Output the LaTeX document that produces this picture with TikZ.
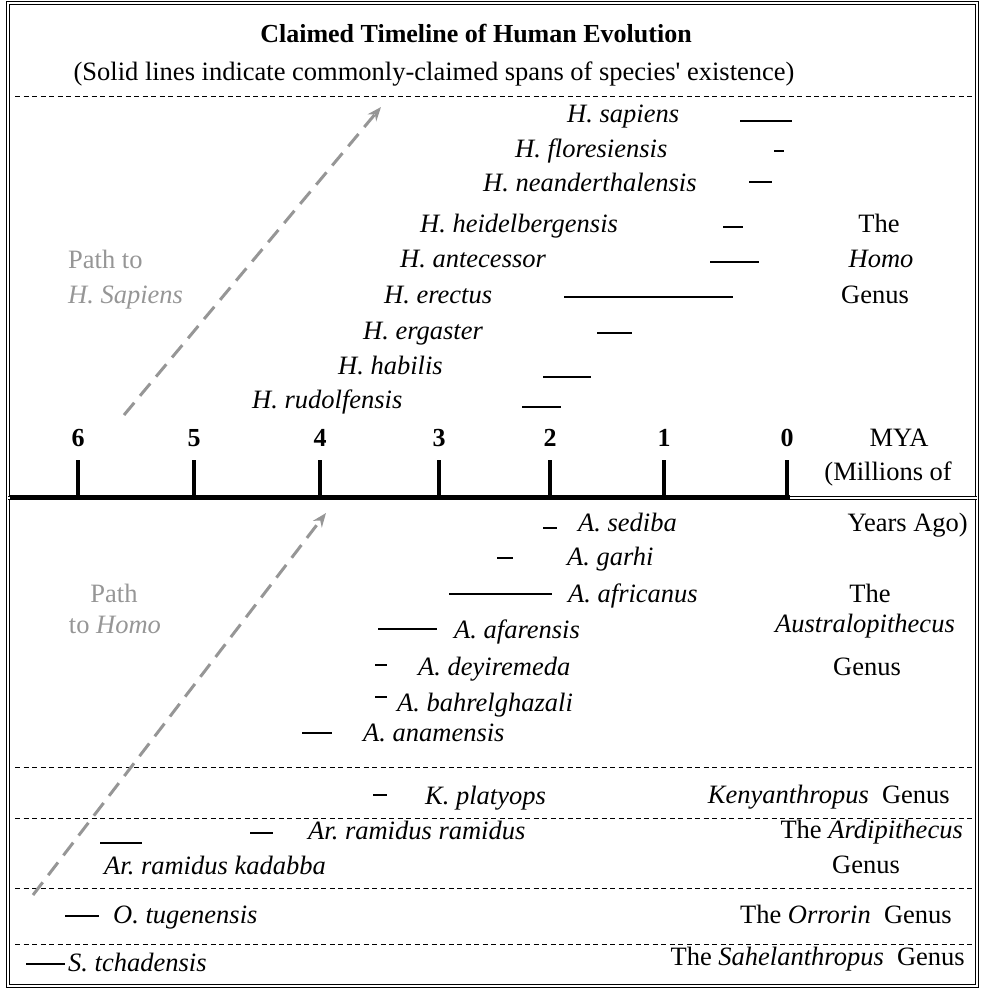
\documentclass[tikz,border=0pt]{standalone}
\usepackage{fontspec}
\setmainfont{Liberation Serif}
\usepackage{xcolor}
\usetikzlibrary{arrows.meta}

\definecolor{pathgray}{RGB}{150,150,150}

\begin{document}
\begin{tikzpicture}[x=1pt, y=-1pt,
    txt/.style={font=\fontsize{26.5}{32}\selectfont\frenchspacing, inner sep=0pt},
    boldtxt/.style={txt, font=\fontsize{26}{32}\selectfont\bfseries},
    species/.style={txt, font=\fontsize{26.5}{32}\selectfont\frenchspacing\itshape, anchor=base west},
    span/.style={line width=2pt},
    sep/.style={line width=1pt, dash pattern=on 5pt off 3.5pt},
    patharrow/.style={pathgray, line width=3pt, dash pattern=on 16pt off 9pt,
      -{Stealth[length=14pt, width=11pt]}},
    pathtext/.style={txt, text=pathgray}]
    \def\axisy{497}

    \useasboundingbox (0,0) rectangle (981,989);

    % Frame
    \draw[double, double distance=2pt, line width=0.8pt] (8,3) rectangle (977,986);
    \draw[double, double distance=2pt, line width=0.8pt] (8,498) -- (977,498);

    % Separators
    \foreach \y in {96, 767, 818, 888, 944}
      \draw[sep] (15,\y) -- (975,\y);

    % Title
    \node[boldtxt, anchor=base] (title) at (476,42)
      {Claimed Timeline of Human Evolution};
    \node[txt, anchor=base] (subtitle) at (434,80)
      {(Solid lines indicate commonly-claimed spans of species\textquotesingle\ existence)};

    % Axis
    \draw[line width=4pt] (10,\axisy) -- (790,\axisy);
    \foreach \x/\lab in {78/6, 194/5, 320/4, 439/3, 550/2, 664/1, 787/0} {
      \draw[line width=4pt] (\x,\axisy) -- (\x,460);
      \node[boldtxt, anchor=base] (tick\lab) at (\x,446) {\lab};
    }
    \node[txt, anchor=base] (mya) at (899,446) {MYA};
    \node[txt, anchor=base east] (millions) at (952,480) {(Millions of};
    \node[txt, anchor=base east] (yearsago) at (968,531) {Years Ago)};

    % Paths
    \coordinate (sapTail) at (124,415);
    \coordinate (sapTip) at (381,107);
    \draw[patharrow] (sapTail) -- (sapTip);
    \coordinate (homoTail) at (33,895);
    \coordinate (homoTip) at (326,513);
    \draw[patharrow] (homoTail) -- (homoTip);

    \node[pathtext, anchor=base west] (pathsapA) at (68,268) {Path to};
    \node[pathtext, anchor=base west] (pathsapB) at (68,303) {\itshape H. Sapiens};
    \node[pathtext, anchor=base] (pathhomoA) at (114,602) {Path};
    \node[pathtext, anchor=base] (pathhomoB) at (115,633) {to \textit{Homo}};

    % Homo
    \node[species] (sapiens) at (567,122) {H. sapiens};
    \draw[span] (740,121) -- (792,121);
    \node[species] (floresiensis) at (515,157) {H. floresiensis};
    \draw[span] (774,151) -- (784,151);
    \node[species] (neanderthalensis) at (483,191) {H. neanderthalensis};
    \draw[span] (749,182) -- (772,182);
    \node[species] (heidelbergensis) at (420,232) {H. heidelbergensis};
    \draw[span] (723,227) -- (743,227);
    \node[species] (antecessor) at (400,267) {H. antecessor};
    \draw[span] (710,262) -- (759,262);
    \node[species] (erectus) at (384,303) {H. erectus};
    \draw[span] (564,297) -- (733,297);
    \node[species] (ergaster) at (363,339) {H. ergaster};
    \draw[span] (597,333) -- (632,333);
    \node[species] (habilis) at (338,374) {H. habilis};
    \draw[span] (543,377) -- (591,377);
    \node[species] (rudolfensis) at (252,408) {H. rudolfensis};
    \draw[span] (522,407) -- (561,407);

    \node[txt, anchor=base] (homoThe) at (879,232) {The};
    \node[txt, anchor=base] (homoName) at (881,267) {\itshape Homo};
    \node[txt, anchor=base] (homoGenus) at (875,303) {Genus};

    % Australopithecus
    \node[species] (sediba) at (578,531) {A. sediba};
    \draw[span] (543,528) -- (557,528);
    \node[species] (garhi) at (567,565) {A. garhi};
    \draw[span] (497,558) -- (513,558);
    \node[species] (africanus) at (568,602) {A. africanus};
    \draw[span] (449,594) -- (552,594);
    \node[species] (afarensis) at (454,638) {A. afarensis};
    \draw[span] (378,629) -- (437,629);
    \node[species] (deyiremeda) at (418,675) {A. deyiremeda};
    \draw[span] (375,665) -- (387,665);
    \node[species] (bahrelghazali) at (397,711) {A. bahrelghazali};
    \draw[span] (375,697) -- (387,697);
    \node[species] (anamensis) at (363,741) {A. anamensis};
    \draw[span] (302,733) -- (332,733);

    \node[txt, anchor=base] (austThe) at (870,602) {The};
    \node[txt, anchor=base] (austName) at (865,632) {\itshape Australopithecus};
    \node[txt, anchor=base] (austGenus) at (867,675) {Genus};

    % Kenyanthropus
    \node[species] (platyops) at (425,804) {K. platyops};
    \draw[span] (373,795) -- (387,795);
    \node[txt, anchor=base east] (kenyGenus) at (950,803) {\textit{Kenyanthropus}\ \ Genus};

    % Ardipithecus
    \node[species] (ramidus) at (308,839) {Ar. ramidus ramidus};
    \draw[span] (250,833) -- (273,833);
    \node[species] (kadabba) at (104,874) {Ar. ramidus kadabba};
    \draw[span] (100,843) -- (142,843);
    \node[txt, anchor=base east] (ardiName) at (963,838) {The \textit{Ardipithecus}};
    \node[txt, anchor=base] (ardiGenus) at (866,873) {Genus};

    % Orrorin
    \node[species] (tugenensis) at (113,923) {O. tugenensis};
    \draw[span] (65,916) -- (99,916);
    \node[txt, anchor=base east] (orroGenus) at (952,923) {The \textit{Orrorin}\ \ Genus};

    % Sahelanthropus
    \node[species] (tchadensis) at (68,971) {S. tchadensis};
    \draw[span] (26,964) -- (65,964);
    \node[txt, anchor=base east] (saheGenus) at (965,965) {The \textit{Sahelanthropus}\ \ Genus};
\end{tikzpicture}
\end{document}
